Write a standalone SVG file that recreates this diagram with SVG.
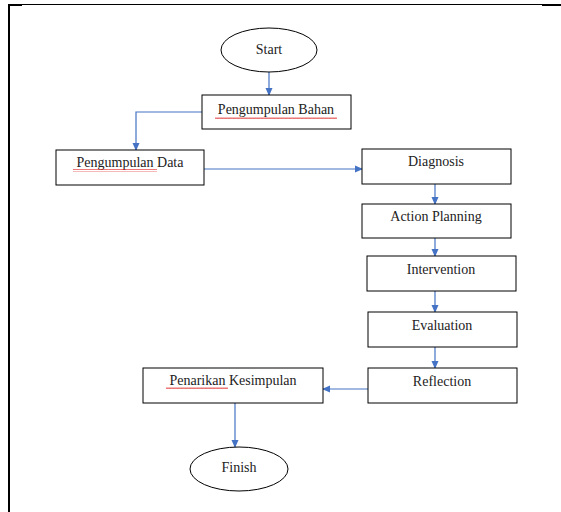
<svg xmlns="http://www.w3.org/2000/svg" width="561" height="512" viewBox="0 0 561 512">
<defs>
<marker id="ah" markerWidth="8" markerHeight="8" refX="7" refY="4" orient="auto" markerUnits="userSpaceOnUse">
<path d="M0,0.5 L8,4 L0,7.5 Z" fill="#4472C4"/>
</marker>
<pattern id="wave" width="4" height="3" patternUnits="userSpaceOnUse">
<path d="M0,2 L1,0.5 L2,2 L3,0.5 L4,2" fill="none" stroke="#e02020" stroke-width="0.7"/>
</pattern>
</defs>
<style>
.box{fill:#fff;stroke:#000;stroke-width:1}
.t{font-family:"Liberation Serif","DejaVu Serif",serif;font-size:14px;fill:#222;text-anchor:middle}
.c{fill:none;stroke:#4472C4;stroke-width:1.2}
.sq{fill:url(#wave)}
</style>
<rect width="561" height="512" fill="#fff"/>
<g id="frame">
<line x1="8" y1="4.5" x2="561" y2="4.5" stroke="#000" stroke-width="1"/>
<rect x="8" y="4" width="14" height="2" fill="#000"/>
<rect x="542" y="4" width="19" height="2" fill="#000"/>
<rect x="8" y="4" width="2" height="508" fill="#000"/>
</g>
<g id="connectors">
<line class="c" x1="269" y1="72" x2="269" y2="95" marker-end="url(#ah)"/>
<polyline class="c" points="202,112 136,112 136,150" marker-end="url(#ah)"/>
<line class="c" x1="204" y1="169" x2="362" y2="169" marker-end="url(#ah)"/>
<line class="c" x1="435" y1="184" x2="435" y2="204" marker-end="url(#ah)"/>
<line class="c" x1="435" y1="238" x2="435" y2="256" marker-end="url(#ah)"/>
<line class="c" x1="435" y1="291" x2="435" y2="312" marker-end="url(#ah)"/>
<line class="c" x1="435" y1="347" x2="435" y2="368" marker-end="url(#ah)"/>
<line class="c" x1="368" y1="389" x2="323" y2="389" marker-end="url(#ah)"/>
<line class="c" x1="235" y1="403" x2="235" y2="447" marker-end="url(#ah)"/>
</g>
<g id="start">
<ellipse class="box" cx="269" cy="50" rx="48" ry="22"/>
<text class="t" x="269" y="54">Start</text>
</g>
<g id="pengumpulan-bahan">
<rect class="box" x="202" y="95" width="149" height="34"/>
<text class="t" x="276" y="114">Pengumpulan Bahan</text>
<rect class="sq" x="215" y="116" width="122" height="3"/>
</g>
<g id="pengumpulan-data">
<rect class="box" x="56" y="150" width="148" height="35"/>
<text class="t" x="130" y="167">Pengumpulan Data</text>
<rect class="sq" x="73" y="169" width="84" height="3"/>
</g>
<g id="diagnosis">
<rect class="box" x="362" y="149" width="149" height="35"/>
<text class="t" x="436" y="166">Diagnosis</text>
</g>
<g id="action-planning">
<rect class="box" x="362" y="204" width="149" height="34"/>
<text class="t" x="436" y="221">Action Planning</text>
</g>
<g id="intervention">
<rect class="box" x="367" y="256" width="149" height="35"/>
<text class="t" x="441" y="274">Intervention</text>
</g>
<g id="evaluation">
<rect class="box" x="368" y="312" width="149" height="35"/>
<text class="t" x="442" y="330">Evaluation</text>
</g>
<g id="reflection">
<rect class="box" x="368" y="368" width="149" height="35"/>
<text class="t" x="442" y="386">Reflection</text>
</g>
<g id="penarikan-kesimpulan">
<rect class="box" x="143" y="368" width="180" height="35"/>
<text class="t" x="233" y="385">Penarikan Kesimpulan</text>
<rect class="sq" x="166" y="387" width="62" height="3"/>
</g>
<g id="finish">
<ellipse class="box" cx="239" cy="469" rx="49" ry="22"/>
<text class="t" x="239" y="472">Finish</text>
</g>
</svg>
